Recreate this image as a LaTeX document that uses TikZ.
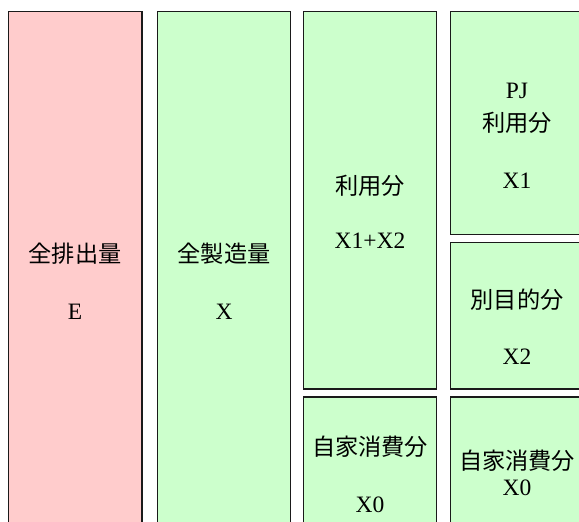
\documentclass[tikz,border=0pt]{standalone}
\usepackage{fontspec}
\setmainfont{Liberation Serif}
\newfontfamily\cjk{Noto Sans CJK JP}
\definecolor{pinkfill}{HTML}{FFCCCC}
\definecolor{greenfill}{HTML}{CCFFCC}
\definecolor{edge}{HTML}{1A1A1A}
\tikzset{
  pinkbox/.style={draw=edge, line width=1.4pt, fill=pinkfill},
  greenbox/.style={draw=edge, line width=1.4pt, fill=greenfill},
  jtext/.style={inner sep=0pt, font=\cjk\fontsize{23.2}{23.2}\selectfont},
  ltext/.style={inner sep=0pt, anchor=base, font=\fontsize{23.5}{23.5}\selectfont},
}
\begin{document}
\begin{tikzpicture}[x=1pt,y=-1pt]
\useasboundingbox (0,0) rectangle (579,522);
\clip (0,0) rectangle (579,522);
\fill[white] (0,0) rectangle (579,522);
% boxes
\draw[pinkbox]  (8.5,11.5) rectangle (142,545) coordinate (b1);
\draw[greenbox] (157.5,11.5) rectangle (290.5,545) coordinate (b2);
\draw[greenbox] (303.5,11.5) rectangle (436.5,389) coordinate (b3);
\draw[greenbox] (303.5,397) rectangle (436.5,545) coordinate (b6);
\draw[greenbox] (450.5,11.5) rectangle (584,234.5) coordinate (b4);
\draw[greenbox] (450.5,242.5) rectangle (584,389) coordinate (b5);
\draw[greenbox] (450.5,397) rectangle (584,545) coordinate (b7);
% texts
\node[jtext] (t1a) at (75,254) {全排出量};
\node[ltext] (t1b) at (75,319.5) {E};
\node[jtext] (t2a) at (224,254) {全製造量};
\node[ltext] (t2b) at (224,319.5) {X};
\node[jtext] (t3a) at (370,186) {利用分};
\node[ltext] (t3b) at (370,248.3) {X1+X2};
\node[ltext] (t4a) at (517,98) {PJ};
\node[jtext] (t4b) at (517,123) {利用分};
\node[ltext] (t4c) at (517,188) {X1};
\node[jtext] (t5a) at (517,300) {別目的分};
\node[ltext] (t5b) at (517,364.5) {X2};
\node[jtext] (t6a) at (370,447) {自家消費分};
\node[ltext] (t6b) at (370,512) {X0};
\node[jtext] (t7a) at (517,461) {自家消費分};
\node[ltext] (t7b) at (517,495.5) {X0};
\end{tikzpicture}
\end{document}
